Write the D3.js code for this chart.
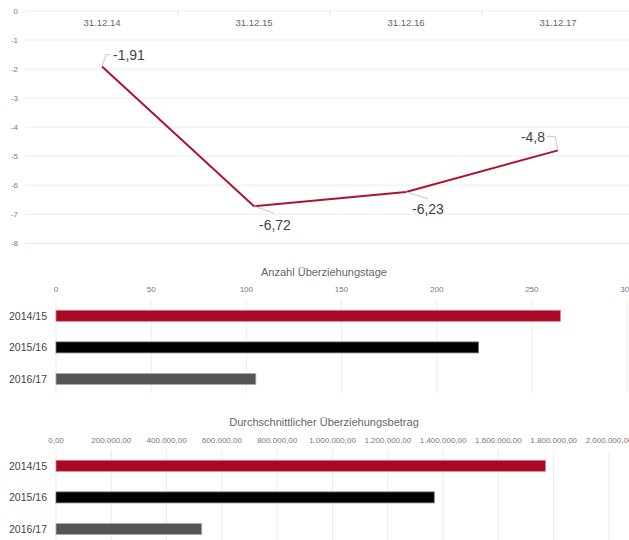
<!DOCTYPE html>
<html><head><meta charset="utf-8">
<script src="https://cdn.jsdelivr.net/npm/d3@7"></script>
<style>body{margin:0;background:#fff}svg{display:block;font-family:"Liberation Sans",Arial,sans-serif}</style>
</head><body><svg id="c" width="629" height="540"></svg>
<script>
// Line chart data
const dates = ["31.12.14","31.12.15","31.12.16","31.12.17"];
const lineValues = [-1.91,-6.72,-6.23,-4.8];
const yTicks = [0,-1,-2,-3,-4,-5,-6,-7,-8];
// Bar chart 1
const years = ["2014/15","2015/16","2016/17"];
const days = [265,222,105];
const dayTicks = [0,50,100,150,200,250,300];
// Bar chart 2
const amounts = [1770000,1368000,527000];
const amountTicks = [0,200000,400000,600000,800000,1000000,1200000,1400000,1600000,1800000,2000000];
const barColors = ["#a80a26","#000000","#555555"];
const barStrokes = ["#e07a8a","#777777","#aaaaaa"];

const de = d3.formatLocale({decimal:",",thousands:".",grouping:[3],currency:["","€"],minus:"-"});
const fmtVal = de.format("~f");
const fmtAmt = de.format(",.2f");

const svg = d3.select("#c");

// ---------- Line chart ----------
const x = d3.scaleBand().domain(dates).range([26,634]);
const y = d3.scaleLinear().domain([0,-8]).range([11,243.3]);
const g = svg.append("g");
g.selectAll(".hg").data(yTicks).join("line")
  .attr("x1",25).attr("x2",629).attr("y1",d=>y(d)).attr("y2",d=>y(d))
  .attr("stroke","#ececec").attr("stroke-width",1);
g.selectAll(".yl").data(yTicks).join("text")
  .attr("x",18).attr("y",d=>y(d)+3).attr("text-anchor","end")
  .attr("font-size",8).attr("fill","#777").text(d=>d);
g.selectAll(".vt").data(dates.slice(1)).join("line")
  .attr("x1",d=>x(d)).attr("x2",d=>x(d)).attr("y1",11).attr("y2",15)
  .attr("stroke","#e4e4e4");
g.selectAll(".xl").data(dates).join("text")
  .attr("x",d=>x(d)+x.bandwidth()/2).attr("y",26).attr("text-anchor","middle")
  .attr("font-size",9.5).attr("fill","#666").text(d=>d);
const pts = dates.map((d,i)=>[x(d)+x.bandwidth()/2, y(lineValues[i])]);
g.append("path").datum(pts).attr("d",d3.line())
  .attr("fill","none").attr("stroke","#b0122e").attr("stroke-width",2);
// label leaders
const leaders = [
  {path:[[0,0],[4,-12],[8,-12]], tx:11, ty:-6.5, anchor:"start"},
  {path:[[0,0],[20,7]], tx:5, ty:24, anchor:"start"},
  {path:[[0,0],[22,7]], tx:6, ty:22, anchor:"start"},
  {path:[[0,0],[-3,-14],[-11,-14]], tx:-13, ty:-8.5, anchor:"end"}
];
pts.forEach((p,i)=>{
  const L = leaders[i];
  g.append("path").attr("d",d3.line()(L.path.map(q=>[p[0]+q[0],p[1]+q[1]])))
    .attr("fill","none").attr("stroke","#c8c8c8").attr("stroke-width",1);
  g.append("text").attr("x",p[0]+L.tx).attr("y",p[1]+L.ty)
    .attr("text-anchor",L.anchor).attr("font-size",14).attr("fill","#444")
    .text(fmtVal(lineValues[i]));
});

// ---------- Bar charts ----------
function barChart(opts){
  const gx = d3.scaleLinear().domain(opts.domain).range([56,opts.xmax]);
  const gy = d3.scaleBand().domain(years).range([opts.top, opts.top+94.8])
    .paddingInner(0.652).paddingOuter(0.326);
  const gg = svg.append("g");
  gg.append("text").attr("x",324).attr("y",opts.titleY).attr("text-anchor","middle")
    .attr("font-size",11).attr("fill","#666").text(opts.title);
  gg.selectAll(".tl").data(opts.ticks).join("text")
    .attr("x",d=>gx(d)).attr("y",opts.tickY).attr("text-anchor","middle")
    .attr("font-size",8).attr("fill","#777").text(opts.fmt);
  gg.selectAll(".gl").data(opts.ticks).join("line")
    .attr("x1",d=>gx(d)).attr("x2",d=>gx(d)).attr("y1",opts.top).attr("y2",opts.gridBottom)
    .attr("stroke","#ececec");
  gg.selectAll(".bar").data(opts.values).join("rect")
    .attr("x",gx(0)).attr("y",(d,i)=>gy(years[i]))
    .attr("width",d=>gx(d)-gx(0)).attr("height",gy.bandwidth())
    .attr("fill",(d,i)=>barColors[i]).attr("stroke",(d,i)=>barStrokes[i]).attr("stroke-width",0.8);
  gg.selectAll(".cl").data(years).join("text")
    .attr("x",47).attr("y",d=>gy(d)+gy.bandwidth()/2+4).attr("text-anchor","end")
    .attr("font-size",10.5).attr("fill","#444").text(d=>d);
}
barChart({title:"Anzahl Überziehungstage", domain:[0,300], xmax:627, ticks:dayTicks, values:days,
  fmt:d=>d, top:300, gridBottom:393, titleY:275.5, tickY:292});
barChart({title:"Durchschnittlicher Überziehungsbetrag", domain:[0,2000000], xmax:609, ticks:amountTicks, values:amounts,
  fmt:d=>fmtAmt(d), top:450, gridBottom:540, titleY:425.5, tickY:443});
</script></body></html>
